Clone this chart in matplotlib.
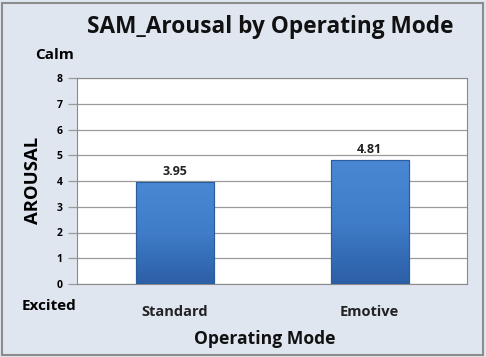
import numpy as np
import matplotlib
matplotlib.use("Agg")
import matplotlib.pyplot as plt
from matplotlib.patches import Rectangle

modes = ["Standard", "Emotive"]
arousal = [3.95, 4.81]
yticks = [0, 1, 2, 3, 4, 5, 6, 7, 8]

plt.rcParams['font.family'] = ['Open Sans', 'DejaVu Sans']

W, H = 486, 357
fig = plt.figure(figsize=(W / 100, H / 100), dpi=100)
fig.patch.set_facecolor("#dfe6f0")

# outer frame
fig.add_artist(Rectangle((2 / W, 2 / H), 1 - 5 / W, 1 - 5 / H, transform=fig.transFigure,
                         fill=False, edgecolor="#8c8c8c", linewidth=1.5))

ax = fig.add_axes([77 / W, 1 - 284 / H, 390 / W, 206 / H])
ax.set_facecolor("white")

x = np.arange(len(modes))
bars = ax.bar(x, arousal, width=0.4, color="#3d79c6", edgecolor="#2b5d9e", linewidth=0.8, zorder=3)

# vertical gradient on each bar
grad = np.linspace(0, 1, 100).reshape(-1, 1)
cmap = matplotlib.colors.LinearSegmentedColormap.from_list("b", ["#2c5fa6", "#3f7cc9", "#4a88d4"])
for b in bars:
    im = ax.imshow(grad, extent=(b.get_x(), b.get_x() + b.get_width(), 0, b.get_height()),
                   aspect="auto", cmap=cmap, origin="lower", zorder=3.5)
    im.set_clip_path(b)
    ax.add_patch(Rectangle((b.get_x(), 0), b.get_width(), b.get_height(), fill=False,
                           edgecolor="#2b5d9e", linewidth=0.8, zorder=4))

for xi, v in zip(x, arousal):
    ax.text(xi, v + 0.18, f"{v:.2f}", ha="center", va="bottom", fontsize=9,
            fontweight="bold", color="#222222")

ax.set_xlim(-0.5, len(modes) - 0.5)
ax.set_ylim(0, 8)
ax.set_yticks(yticks)
ax.set_yticklabels([str(t) for t in yticks], fontsize=7.5, fontweight="bold")
ax.set_xticks(x)
ax.set_xticklabels(modes, fontsize=10.5, fontweight="bold", color="#222222")
ax.tick_params(axis="x", length=0, pad=15)
ax.tick_params(axis="y", length=6.5, width=0.9, color="#9a9a9a", pad=4)
ax.yaxis.grid(True, color="#9a9a9a", linewidth=0.9, zorder=0)
ax.set_axisbelow(True)
for s in ax.spines.values():
    s.set_color("#8a8a8a")
    s.set_linewidth(0.8)

fig.text(270 / W, 1 - 27 / H, "SAM_Arousal by Operating Mode", ha="center", va="center",
         fontsize=16.3, fontweight="bold", color="#111111")
fig.text(55 / W, 1 - 55 / H, "Calm", ha="center", va="center", fontsize=11, fontweight="bold")
fig.text(49 / W, 1 - 306 / H, "Excited", ha="center", va="center", fontsize=11, fontweight="bold")
fig.text(33 / W, 1 - 180 / H, "AROUSAL", ha="center", va="center", rotation=90,
         fontsize=13.3, fontweight="bold")
fig.text(265 / W, 1 - 339 / H, "Operating Mode", ha="center", va="center",
         fontsize=12.6, fontweight="bold", color="#111111")

fig.savefig("out.png", dpi=100, facecolor=fig.get_facecolor())
